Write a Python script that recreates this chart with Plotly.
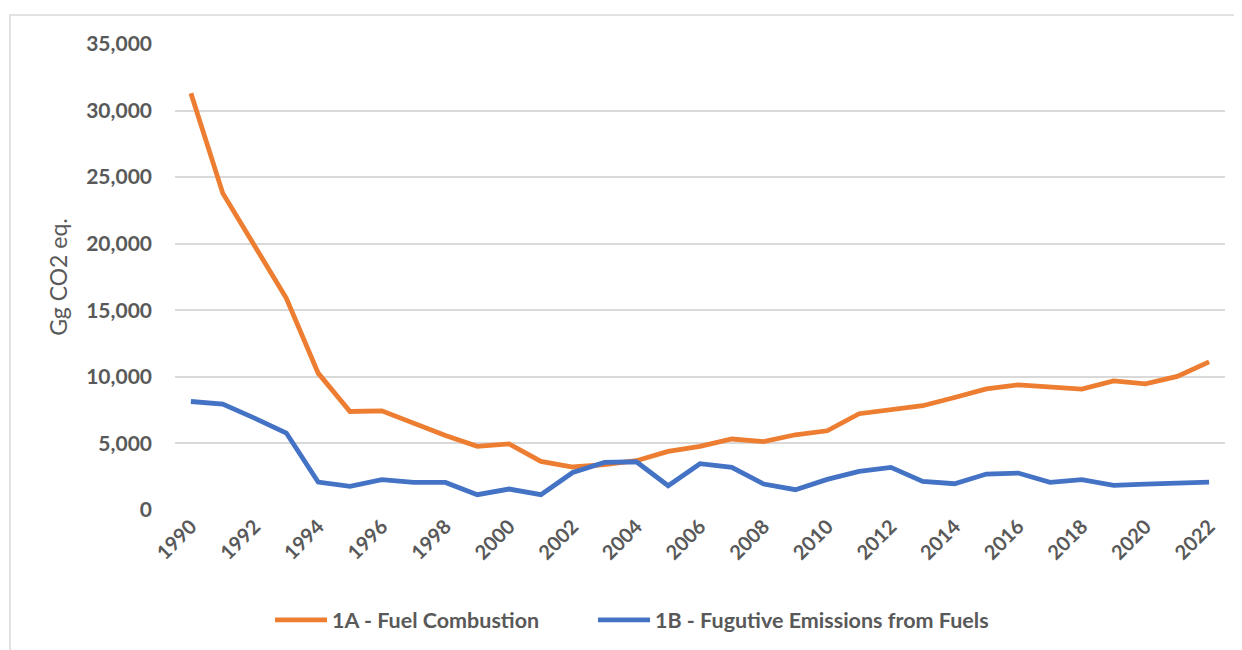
import plotly.graph_objects as go

years = list(range(1990, 2023))
fuel_combustion = [31300, 23800, 19850, 15900, 10280, 7400, 7450, 6480, 5600, 4780,
                   4970, 3650, 3230, 3400, 3700, 4400, 4780, 5330, 5130, 5650,
                   5950, 7230, 7530, 7830, 8450, 9100, 9400, 9280, 9080, 9700,
                   9480, 10030, 11130]
fugitive = [8150, 7950, 6900, 5780, 2100, 1770, 2275, 2070, 2070, 1150,
            1575, 1150, 2820, 3575, 3625, 1825, 3475, 3200, 1950, 1525,
            2300, 2900, 3200, 2150, 1975, 2700, 2775, 2075, 2275, 1850,
            1950, 2025, 2100]
series_names = ["1A - Fuel Combustion", "1B - Fugutive Emissions from Fuels"]
y_title = "Gg CO2 eq."
tick_years = [y for y in years if y % 2 == 0]

FONT = "Lato"
GREY = "#595959"

fig = go.Figure()
fig.add_trace(go.Scatter(x=years, y=fuel_combustion, mode="lines", name=series_names[0],
                         line=dict(color="#ED7D31", width=4.8), legend="legend"))
fig.add_trace(go.Scatter(x=years, y=fugitive, mode="lines", name=series_names[1],
                         line=dict(color="#4472C4", width=4.8), legend="legend2"))

legend_common = dict(orientation="h", xanchor="left", y=-0.192, yanchor="top",
                     font=dict(family=FONT, size=21.5, color=GREY, weight="bold"),
                     itemwidth=52, bgcolor="rgba(0,0,0,0)")

fig.update_layout(
    width=1234, height=642,
    margin=dict(l=167, r=17, t=36, b=140, autoexpand=False),
    paper_bgcolor="white", plot_bgcolor="white",
    font=dict(family=FONT, color=GREY),
    showlegend=True,
    legend=dict(x=95/1050, **legend_common),
    legend2=dict(x=418/1050, **legend_common),
    xaxis=dict(range=[1989.5, 2022.5], tickmode="array", tickvals=tick_years,
               ticktext=[str(y) for y in tick_years], tickangle=-45, automargin=False,
               tickfont=dict(family=FONT, size=20, color=GREY, weight="bold"),
               showgrid=False, zeroline=False, showline=False, ticks=""),
    yaxis=dict(range=[0, 35000], dtick=5000, tickformat=",", automargin=False,
               tickfont=dict(family=FONT, size=21, color=GREY, weight="bold"),
               gridcolor="#d9d9d9", gridwidth=1.5, zeroline=False, showline=False,
               ticklabelstandoff=22,
               title=dict(text=y_title, font=dict(family=FONT, size=23, color=GREY), standoff=12)),
)
fig.add_shape(type="rect", xref="paper", yref="paper",
              x0=-165/1050, x1=1.2, y0=-0.5, y1=495/466,
              line=dict(color="#d9d9d9", width=1.5), fillcolor="rgba(0,0,0,0)", layer="below")

fig.write_html("out.html")
